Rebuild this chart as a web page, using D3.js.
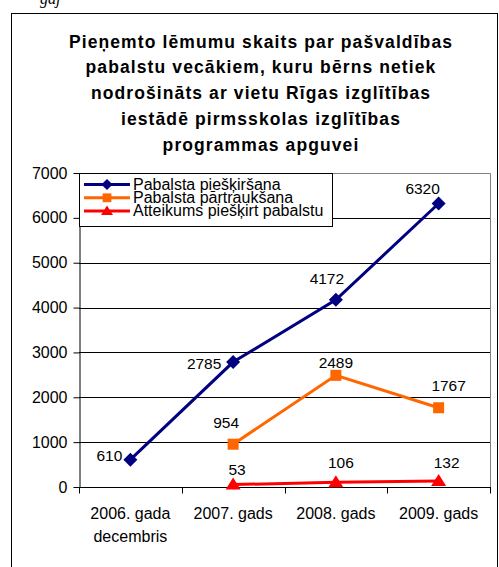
<!DOCTYPE html>
<html><head><meta charset="utf-8">
<script src="https://cdn.jsdelivr.net/npm/d3@7"></script>
<style>
html,body{margin:0;padding:0;background:#fff;}
svg{display:block;font-family:"Liberation Sans",Arial,sans-serif;}
</style></head>
<body>
<svg id="chart" width="499" height="567"></svg>
<script>
// ---- data ----
const categories = [["2006. gada","decembris"],["2007. gads"],["2008. gads"],["2009. gads"]];
const seriesNames = ["Pabalsta piešķiršana","Pabalsta pārtraukšana","Atteikums piešķirt pabalstu"];
const valuesGrant = [610, 2785, 4172, 6320];
const valuesStop = [null, 954, 2489, 1767];
const valuesRefuse = [null, 53, 106, 132];
const yTicks = [0,1000,2000,3000,4000,5000,6000,7000];
const titleLines = ["Pieņemto lēmumu skaits par pašvaldības","pabalstu vecākiem, kuru bērns netiek","nodrošināts ar vietu Rīgas izglītības","iestādē pirmsskolas izglītības","programmas apguvei"];
// label offsets (px) relative to each point
const labelOffsets = [
  [[-21,1],[-29,7],[-9,-16],[-16,-10]],
  [null,[-7,-16],[0,-7],[10,-17]],
  [null,[4,-10],[5,-14],[8,-13]]
];
const colors = ["#000080","#FF6600","#FF0000"];
const markers = ["diamond","square","triangle"];

const svg = d3.select("#chart");
// partial caption at top
svg.append("text").attr("x",40).attr("y",4).attr("font-family","Liberation Serif,serif")
  .attr("font-style","italic").attr("font-size",16).text("gaj");
// outer frame
svg.append("rect").attr("x",11.5).attr("y",13.5).attr("width",486).attr("height",600)
  .attr("fill","#fff").attr("stroke","#000").attr("stroke-width",1);

// title
const title = svg.append("text").attr("text-anchor","middle").attr("font-weight","bold")
  .attr("font-size",17.5).attr("letter-spacing",1.1).attr("fill","#000");
titleLines.forEach((t,i)=>{
  title.append("tspan").attr("x",261).attr("y",47.5+i*25.8).text(t);
});

const L=79, R=490, T=173, B=487;
const x = d3.scaleBand().domain(d3.range(categories.length)).range([L,R]);
const y = d3.scaleLinear().domain([0,7000]).range([B,T]);

// gridlines
const g = svg.append("g");
g.selectAll("line.grid").data(yTicks.filter(v=>v>0 && v<7000)).enter().append("line")
  .attr("x1",L).attr("x2",R).attr("y1",d=>Math.round(y(d))+0.5).attr("y2",d=>Math.round(y(d))+0.5)
  .attr("stroke","#000").attr("stroke-width",1);
// top & right plot border (gray)
g.append("path").attr("d",`M${L},${Math.round(T)+0.5}H${R+0.5}V${B}`).attr("fill","none")
  .attr("stroke","#808080").attr("stroke-width",1);

// y axis
const yAxis = d3.axisLeft(y).tickValues(yTicks).tickFormat(d3.format("d")).tickSize(6).tickSizeOuter(0).tickPadding(6);
const ya = svg.append("g").attr("transform",`translate(${L+0.5},0)`).call(yAxis);
ya.selectAll("text").attr("font-size",16).attr("fill","#000").attr("font-family","Liberation Sans,Arial,sans-serif");
ya.selectAll("line,path").attr("stroke","#000");

// x axis
const xa = svg.append("g").attr("transform",`translate(0,${B+0.5})`);
xa.append("line").attr("x1",L).attr("x2",R+1).attr("stroke","#000");
const bounds = d3.range(categories.length+1).map(i=> i<categories.length ? x(i) : x(i-1)+x.bandwidth());
xa.selectAll("line.tk").data(bounds).enter().append("line")
  .attr("x1",d=>Math.round(d)+0.5).attr("x2",d=>Math.round(d)+0.5).attr("y1",0).attr("y2",6).attr("stroke","#000");
categories.forEach((c,i)=>{
  const t = xa.append("text").attr("text-anchor","middle").attr("font-size",16).attr("fill","#000");
  c.forEach((s,j)=> t.append("tspan").attr("x",x(i)+x.bandwidth()/2).attr("y",31+j*23).text(s));
});

// series
const allSeries = [valuesGrant, valuesStop, valuesRefuse];
function marker(sel, type, color, s){
  s = s||1;
  if(type==="diamond") sel.append("path").attr("d",`M0,${-7*s}L${7*s},0L0,${7*s}L${-7*s},0Z`).attr("fill",color);
  else if(type==="square") sel.append("rect").attr("x",-5.5*s).attr("y",-5.5*s).attr("width",11*s).attr("height",11*s).attr("fill",color);
  else sel.append("path").attr("d",`M0,${-7*s}L${7.5*s},${5*s}L${-7.5*s},${5*s}Z`).attr("fill",color);
}
const line = d3.line().defined(d=>d.v!=null).x(d=>x(d.i)+x.bandwidth()/2).y(d=>y(d.v));
allSeries.forEach((vals,si)=>{
  const pts = vals.map((v,i)=>({v,i}));
  svg.append("path").datum(pts).attr("d",line).attr("fill","none").attr("stroke",colors[si]).attr("stroke-width",3);
  pts.filter(d=>d.v!=null).forEach(d=>{
    const m = svg.append("g").attr("transform",`translate(${x(d.i)+x.bandwidth()/2},${y(d.v)})`);
    marker(m, markers[si], colors[si]);
  });
});
// labels
allSeries.forEach((vals,si)=>{
  vals.forEach((v,i)=>{
    if(v==null) return;
    const o = labelOffsets[si][i];
    svg.append("text").attr("text-anchor","middle").attr("font-size",15.5).attr("fill","#000")
      .attr("x",x(i)+x.bandwidth()/2+o[0]).attr("y",y(v)+o[1]).text(v);
  });
});

// legend
const lg = svg.append("g");
lg.append("rect").attr("x",79.5).attr("y",173.5).attr("width",253).attr("height",53).attr("fill","#fff").attr("stroke","#000");
seriesNames.forEach((n,i)=>{
  const yy = 184.5+i*13.3;
  lg.append("line").attr("x1",84).attr("x2",130).attr("y1",yy).attr("y2",yy).attr("stroke",colors[i]).attr("stroke-width",3);
  const m = lg.append("g").attr("transform",`translate(107,${yy})`);
  marker(m, markers[i], colors[i], 0.8);
  lg.append("text").attr("x",133).attr("y",yy+5).attr("font-size",16).attr("fill","#000").text(n);
});
</script>
</body></html>
